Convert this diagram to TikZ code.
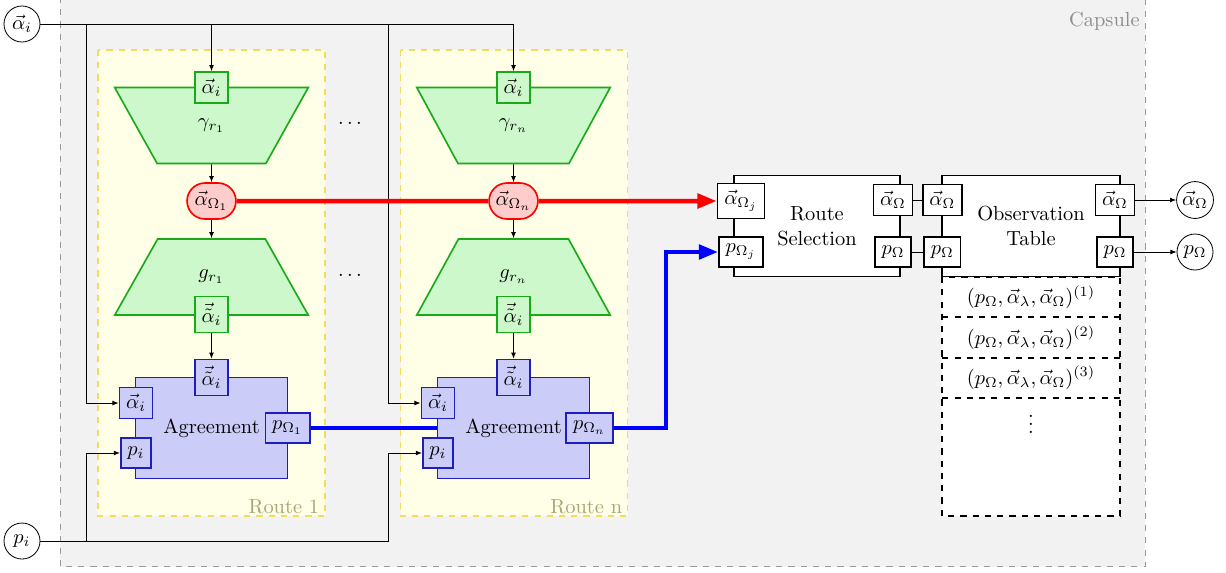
\documentclass[tikz,border=0pt]{standalone}
\usetikzlibrary{arrows.meta,shapes.geometric,shapes.misc}
\definecolor{routeedge}{RGB}{238,222,90}
\definecolor{routetext}{RGB}{168,165,120}
\definecolor{gedge}{RGB}{25,170,25}
\definecolor{gfill}{RGB}{204,248,204}
\definecolor{bedge}{RGB}{30,30,190}
\definecolor{bfill}{RGB}{204,204,248}
\def\u{0.49pt}
\begin{document}
\begin{tikzpicture}[x=0.49pt,y=-0.49pt,
  >={Latex[length=3pt,width=2.4pt]},
  capsulebox/.style={draw=black!40, dashed, fill=black!5},
  routebox/.style={draw=routeedge, dashed, semithick, fill=yellow!10},
  routelbl/.style={anchor=base east, inner sep=0pt, text=routetext},
  trap/.style={trapezium, trapezium angle=60, trapezium stretches=true,
    minimum width=194*\u, minimum height=76*\u, draw=gedge, fill=gfill, thick},
  gport/.style={draw=gedge, fill=gfill, thick, inner sep=3.3pt, minimum height=30*\u},
  bport/.style={draw=bedge, fill=bfill, thick, inner sep=3.3pt, minimum height=30*\u},
  wport/.style={draw, fill=white, thick, inner sep=3.3pt, minimum height=30*\u},
  agbox/.style={draw=bedge, fill=bfill, thick, minimum width=152*\u, minimum height=101*\u},
  redn/.style={rounded rectangle, draw=red, fill=red!20, thick, inner sep=1pt,
    minimum width=53*\u, minimum height=36*\u},
  io/.style={circle, draw, minimum size=36*\u, inner sep=1pt},
  wbox/.style={draw, fill=white, thick, minimum height=101*\u, align=center},
  conn/.style={->},
  thickred/.style={draw=red, line width=2.2pt},
  thickblue/.style={draw=blue, line width=2.2pt},
  bigtip/.style={-{Triangle[length=9.5pt,width=7pt]}},
  tbl/.style={dashed, thick}
]
\useasboundingbox (0,0) rectangle (1226,572);

% capsule
\draw[capsulebox] (60,-3) rectangle (1145,566.5);
\node[anchor=base east, inner sep=0pt, text=black!45] (caplbl) at (1140,26.5) {Capsule};

% routes
\draw[routebox] (98,50) rectangle (325,516);
\node[routelbl] (r1lbl) at (319.5,513.5) {Route 1};
\draw[routebox] (400.5,50) rectangle (627.5,516);
\node[routelbl] (rnlbl) at (622.5,513.5) {Route n};

% inputs
\node[io] (ain) at (22,24) {$\vec{\alpha}_i$};
\node[io] (pin) at (22,541) {$p_i$};

% route 1
\node[trap, shape border rotate=180] (t1) at (211.5,125.5) {$\gamma_{r_1}$};
\node[gport] (t1in) at (211.5,87.5) {$\vec{\alpha}_i$};
\node[redn] (o1) at (211.5,201) {$\vec{\alpha}_{\Omega_1}$};
\node[trap] (s1) at (211.5,277) {$g_{r_1}$};
\node[gport] (s1out) at (211.5,314.5) {$\vec{\tilde{\alpha}}_i$};
\node[agbox] (ag1) at (211.5,428) {Agreement};
\node[bport] (a1t) at (211.5,377.5) {$\vec{\tilde{\alpha}}_i$};
\node[bport] (a1a) at (136,403) {$\vec{\alpha}_i$};
\node[bport] (a1p) at (136,453) {$p_i$};
\node[bport] (a1o) at (287.5,428) {$p_{\Omega_1}$};

% route n
\node[trap, shape border rotate=180] (tn) at (513.5,125.5) {$\gamma_{r_n}$};
\node[gport] (tnin) at (513.5,87.5) {$\vec{\alpha}_i$};
\node[redn] (on) at (513.5,201) {$\vec{\alpha}_{\Omega_n}$};
\node[trap] (sn) at (513.5,277) {$g_{r_n}$};
\node[gport] (snout) at (513.5,314.5) {$\vec{\tilde{\alpha}}_i$};
\node[agbox] (agn) at (513.5,428) {Agreement};
\node[bport] (ant) at (513.5,377.5) {$\vec{\tilde{\alpha}}_i$};
\node[bport] (ana) at (438,403) {$\vec{\alpha}_i$};
\node[bport] (anp) at (438,453) {$p_i$};
\node[bport] (ano) at (589.5,428) {$p_{\Omega_n}$};

% dots
\node (d1) at (350,124) {$\cdots$};
\node (d2) at (350,276) {$\cdots$};

% table
\draw[tbl, fill=white] (942.3,277) rectangle (1120,516);
\draw[tbl] (942.3,317.3) -- (1120,317.3);
\draw[tbl] (942.3,357.7) -- (1120,357.7);
\draw[tbl] (942.3,397.7) -- (1120,397.7);
\node (row1) at (1031,297) {$(p_\Omega,\vec{\alpha}_\lambda,\vec{\alpha}_\Omega)^{(1)}$};
\node (row2) at (1031,337.5) {$(p_\Omega,\vec{\alpha}_\lambda,\vec{\alpha}_\Omega)^{(2)}$};
\node (row3) at (1031,377.7) {$(p_\Omega,\vec{\alpha}_\lambda,\vec{\alpha}_\Omega)^{(3)}$};
\node (rowd) at (1031,418) {$\vdots$};

% route selection & observation table
\node[wbox, minimum width=166*\u] (rs) at (817,226) {Route\\Selection};
\node[wport] (rsa) at (741,201) {$\vec{\alpha}_{\Omega_j}$};
\node[wport] (rsp) at (741,252) {$p_{\Omega_j}$};
\node[wport] (rsoa) at (893,200) {$\vec{\alpha}_{\Omega}$};
\node[wport] (rsop) at (893,252) {$p_{\Omega}$};
\node[wbox, minimum width=178*\u] (ot) at (1031,226) {Observation\\Table};
\node[wport] (otia) at (942.3,200) {$\vec{\alpha}_{\Omega}$};
\node[wport] (otip) at (942.3,252) {$p_{\Omega}$};
\node[wport] (otoa) at (1115,200) {$\vec{\alpha}_{\Omega}$};
\node[wport] (otop) at (1115,252) {$p_{\Omega}$};
\node[io] (aout) at (1195,200) {$\vec{\alpha}_\Omega$};
\node[io] (pout) at (1195,252) {$p_\Omega$};

% thin connectors
\coordinate (b1) at (86,24);
\coordinate (b2) at (388,24);
\coordinate (c1) at (86,541);
\coordinate (c2) at (388,541);
\draw[conn] (ain) -| (t1in);
\draw[conn] (ain) -| (tnin);
\draw[conn] (ain) -- (b1) |- (a1a);
\draw[conn] (ain) -- (b2) |- (ana);
\draw[conn] (pin) -- (c1) |- (a1p);
\draw[conn] (pin) -- (c2) |- (anp);
\draw[conn] (t1) -- (o1);
\draw[conn] (o1) -- (s1);
\draw[conn] (s1out) -- (a1t);
\draw[conn] (tn) -- (on);
\draw[conn] (on) -- (sn);
\draw[conn] (snout) -- (ant);
\draw (rsoa) -- (otia);
\draw (rsop) -- (otip);
\draw[conn] (otoa) -- (aout);
\draw[conn] (otop) -- (pout);

% thick connectors
\coordinate (bturn) at (666,428);
\draw[thickred] (o1) -- (on);
\draw[thickred, bigtip] (on) -- (rsa);
\draw[thickblue] (a1o) -- (agn);
\draw[thickblue, bigtip] (ano) -- (bturn) |- (rsp);
\end{tikzpicture}
\end{document}
